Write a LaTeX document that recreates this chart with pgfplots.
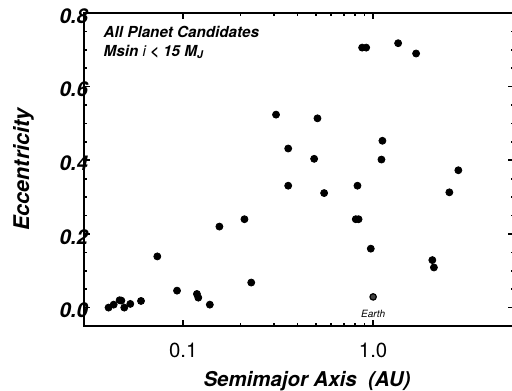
\documentclass[border=0pt]{standalone}
\usepackage{fontspec}
\setmainfont{TeX Gyre Heros}
\usepackage{pgfplots}
\pgfplotsset{compat=1.18}
\pgfplotstableread{
a e
0.0404 0.000
0.0430 0.008
0.0462 0.020
0.0472 0.019
0.0489 0.000
0.0526 0.010
0.0599 0.018
0.0730 0.139
0.0927 0.046
0.118 0.037
0.120 0.027
0.138 0.008
0.155 0.220
0.210 0.240
0.228 0.068
0.308 0.524
0.357 0.432
0.357 0.331
0.489 0.404
0.509 0.514
0.552 0.311
0.827 0.331
0.810 0.240
0.838 0.240
0.875 0.706
0.919 0.706
0.972 0.160
1.119 0.453
1.106 0.402
1.354 0.718
1.684 0.690
2.05 0.129
2.09 0.109
2.52 0.313
2.81 0.373
}\planets
\begin{document}
\begin{tikzpicture}
\begin{axis}[
  xmode=log, scale only axis, width=215pt, height=156.5pt,
  xmin=0.03, xmax=5.52, ymin=-0.05, ymax=0.8,
  axis line style={line width=1.1pt},
  tick align=inside, major tick length=3pt, minor tick length=1.6pt,
  tick style={black, line width=0.8pt},
  xtick={0.1,1}, xticklabels={0.1,1.0},
  ytick={0,0.2,0.4,0.6,0.8}, minor ytick={-0.05,0.05,0.1,0.15,0.25,0.3,0.35,0.45,0.5,0.55,0.65,0.7,0.75},
  yticklabel style={font=\fontsize{10.2}{11}\selectfont\bfseries\itshape, /pgf/number format/fixed, /pgf/number format/fixed zerofill, /pgf/number format/precision=1, xshift=5.5pt, yshift=-1.5pt},
  /pgf/number format/assume math mode=true,
  xticklabel style={font=\fontsize{10.2}{11}\selectfont, yshift=-5pt},
  xlabel={Semimajor Axis\ \ (AU)},
  ylabel={Eccentricity},
  xlabel style={font=\fontsize{10.2}{12}\selectfont\bfseries\itshape, yshift=0pt, xshift=4pt},
  ylabel style={font=\fontsize{10.8}{12}\selectfont\bfseries\itshape, yshift=6pt},
  clip=false,
]
\addplot[only marks, mark=*, mark size=1.75pt, black] table {\planets};
\addplot[only marks, mark=*, mark size=1.6pt, draw=black, fill=black!75, mark options={line width=0.6pt}] coordinates {(1.0,0.029)};
\node[font=\fontsize{5}{6}\selectfont\itshape, anchor=north] at (axis cs:1.0,0.012) {Earth};
\node[anchor=north west, align=left, font=\fontsize{7.6}{9.5}\selectfont\bfseries\itshape, inner sep=0pt] at (rel axis cs:0.045,0.96) {All Planet Candidates\\Msin $\mathbf{\mathit{i}}$ < 15 M\textsubscript{J}};
\coordinate (sw) at (rel axis cs:0,0);
\coordinate (ne) at (rel axis cs:1,1);
\end{axis}
\pgfresetboundingbox
\path[use as bounding box] ([xshift=-42pt,yshift=-32pt]sw) rectangle ([xshift=-1pt,yshift=6.5pt]ne);
\end{tikzpicture}
\end{document}
